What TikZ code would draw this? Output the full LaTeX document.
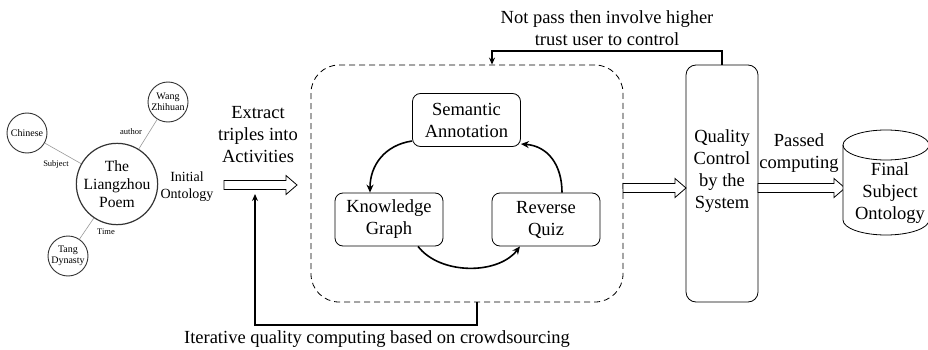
\documentclass[tikz,border=0pt]{standalone}
\usepackage{fontspec}
\setmainfont{Liberation Serif}
\usetikzlibrary{arrows.meta,calc}
\tikzset{
  txt/.style={font=\fontsize{18.5}{22}\selectfont, align=center, inner sep=0pt},
  rbox/.style={draw, line width=0.8pt, rounded corners=8pt, minimum width=108pt, minimum height=53pt, align=center, font=\fontsize{18.5}{22}\selectfont, inner sep=0pt},
  ocirc/.style={circle, draw=black!80, line width=0.9pt, minimum size=40pt, inner sep=0pt, align=center, font=\fontsize{10}{12}\selectfont},
  oedge/.style={draw=black!40, line width=0.6pt},
  olabel/.style={font=\fontsize{8.5}{10}\selectfont, inner sep=0pt},
  cyc/.style={line width=1.6pt, -{Stealth[length=8pt,width=7pt]}},
  fb/.style={line width=1.8pt, -{Stealth[length=7pt,width=6pt]}},
  hollow/.style={draw, line width=0.8pt, fill=white}
}
\newcommand\hollowarr[2]{%
  \draw[hollow] let \p1=(#1), \p2=(#2) in
    (\x1,\y1+4.5pt) -- (\x2-11pt,\y1+4.5pt) -- (\x2-11pt,\y1+9.5pt) -- (\x2,\y1)
    -- (\x2-11pt,\y1-9.5pt) -- (\x2-11pt,\y1-4.5pt) -- (\x1,\y1-4.5pt) -- cycle;}
\begin{document}
\begin{tikzpicture}[x=1pt,y=-1pt]
\useasboundingbox (0,0) rectangle (928,350);

% initial ontology graph
\node[ocirc, minimum size=70pt, line width=1.2pt, font=\fontsize{15.6}{18}\selectfont] (poem) at (117,184) {The\\Liangzhou\\Poem};
\node[ocirc] (chinese) at (27,133) {Chinese};
\node[ocirc, font=\fontsize{10}{11.5}\selectfont] (wang) at (168,102) {Wang\\Zhihuan};
\node[ocirc, font=\fontsize{10}{11.5}\selectfont] (tang) at (68,256) {Tang\\Dynasty};
\draw[oedge] (chinese) -- (poem);
\draw[oedge] (wang) -- (poem);
\draw[oedge] (tang) -- (poem);
\node[olabel] (lauthor) at (131,132) {author};
\node[olabel] (lsubject) at (56,164) {Subject};
\node[olabel] (ltime) at (106,232) {Time};
\node[txt, font=\fontsize{14}{17}\selectfont] (initial) at (187,187) {Initial\\Ontology};

% extract
\node[txt] (extract) at (258,135) {Extract\\triples into\\Activities};
\coordinate (a1s) at (224,185);
\coordinate (a1e) at (297,185);
\hollowarr{a1s}{a1e}

% dashed container
\node[draw, dash pattern=on 6pt off 4pt, line width=0.8pt, rounded corners=28pt, minimum width=312pt, minimum height=237pt] (dbox) at (467,183.5) {};

\node[rbox] (sem) at (466.5,120) {Semantic\\Annotation};
\node[rbox] (kg) at (389,219.5) {Knowledge\\Graph};
\node[rbox] (rq) at (546,219.5) {Reverse\\Quiz};

\draw[cyc] (sem.west |- 0,141) .. controls (385,145) and (370,165) .. (kg.north -| 370,0);
\draw[cyc] (kg.south -| 418,0) .. controls (440,275) and (498,275) .. (rq.south -| 520,0);
\draw[cyc] (rq.north -| 562,0) .. controls (562,165) and (548,146) .. (sem.east |- 0,144);

% quality control
\node[draw, line width=0.8pt, rounded corners=10pt, minimum width=72pt, minimum height=237pt] (qc) at (722,183.5) {};
\node[txt] (qct) at (722,171) {Quality\\Control\\by the\\System};

\coordinate (a2s) at (623,188);
\coordinate (a2e) at (686,188);
\hollowarr{a2s}{a2e}
\coordinate (a3s) at (758,188);
\coordinate (a3e) at (845,188);
\hollowarr{a3s}{a3e}
\node[txt] (passed) at (799,153) {Passed\\computing};

% cylinder
\draw[line width=0.8pt, fill=white] (843,145) -- (843,220) arc[start angle=180, end angle=0, x radius=43, y radius=15] -- (929,145);
\draw[line width=0.8pt] (886,145) ellipse [x radius=43, y radius=15];
\node[txt] (final) at (890,193) {Final\\Subject\\Ontology};

% feedback loops
\coordinate (tl) at (492,51);
\draw[fb] (qc.north) |- (tl) -- (tl |- dbox.north);
\node[txt] (nottext) at (607,28) {Not pass then involve higher\\trust user to control};

\coordinate (bs) at (477,302);
\coordinate (bl) at (255,325);
\coordinate (btip) at (255,194);
\draw[fb] (bs) |- (bl) -- (btip);
\node[txt] (itertext) at (377,339) {Iterative quality computing based on crowdsourcing};
\end{tikzpicture}
\end{document}
